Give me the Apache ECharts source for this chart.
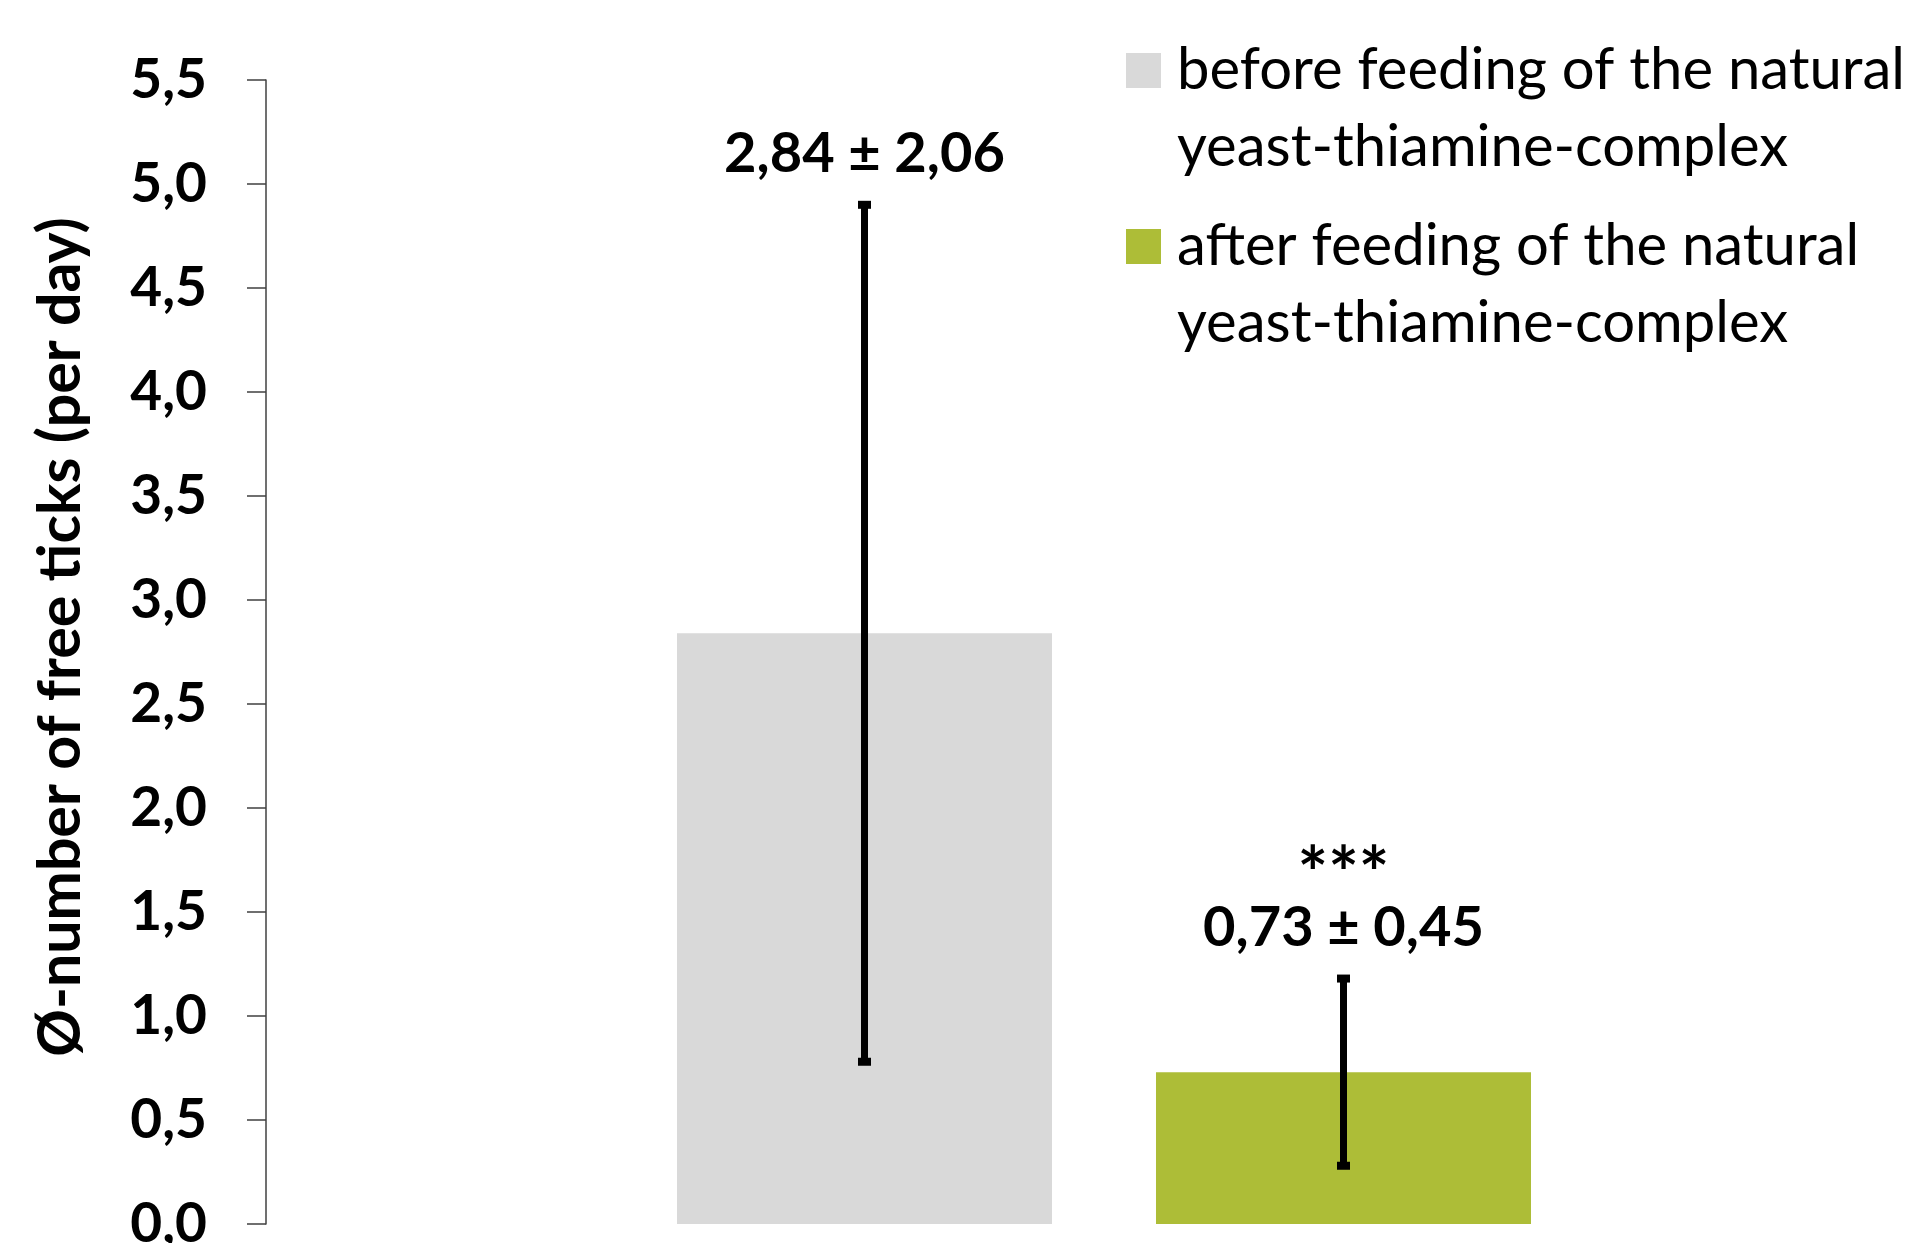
<!DOCTYPE html>
<html>
<head>
<meta charset="utf-8">
<title>Free ticks per day</title>
<script src="https://cdn.jsdelivr.net/npm/echarts@6/dist/echarts.min.js"></script>
<style>
  html, body { margin: 0; padding: 0; background: #ffffff; }
  #chart { width: 1927px; height: 1243px; }
</style>
</head>
<body>
<div id="chart"></div>
<script>
// ---- data ----
const categories = [''];
const groupNames = [
  'before feeding of the natural\nyeast-thiamine-complex',
  'after feeding of the natural\nyeast-thiamine-complex'
];
const means = [2.84, 0.73];
const sds = [2.06, 0.45];
const significance = ['', '***'];
const groupColors = ['#D9D9D9', '#ADBD37'];
const yMin = 0, yMax = 5.5, yStep = 0.5;

// ---- layout constants ----
const BAR_WIDTH = 375;
const BAR_GAP_PX = 104;
const FONT = 'Lato';

const fmt = (v, d) => v.toFixed(d).replace('.', ',');

const chart = echarts.init(document.getElementById('chart'), null, { renderer: 'canvas' });

const barSeries = groupNames.map((name, i) => ({
  name: name,
  type: 'bar',
  data: [means[i]],
  barWidth: BAR_WIDTH,
  barGap: (BAR_GAP_PX / BAR_WIDTH * 100).toFixed(2) + '%',
  itemStyle: { color: groupColors[i] },
  emphasis: { disabled: true },
  silent: true
}));

// error bars with caps plus the "mean ± sd" annotations
const errorData = means.map((m, i) => [0, m, sds[i], i]);
const errorSeries = {
  type: 'custom',
  name: 'sd',
  silent: true,
  z: 10,
  data: errorData,
  renderItem: function (params, api) {
    const idx = api.value(3);
    const mean = api.value(1);
    const sd = api.value(2);
    const base = api.coord([api.value(0), mean]);
    const cx = base[0] + (idx - (means.length - 1) / 2) * (BAR_WIDTH + BAR_GAP_PX);
    const yHi = api.coord([api.value(0), mean + sd])[1];
    const yLo = api.coord([api.value(0), mean - sd])[1];
    const capW = 13, capH = 8;
    const children = [
      { type: 'line', shape: { x1: cx, y1: yHi, x2: cx, y2: yLo },
        style: { stroke: '#000', lineWidth: 7 } },
      { type: 'rect', shape: { x: cx - capW / 2, y: yHi - capH / 2, width: capW, height: capH },
        style: { fill: '#000' } },
      { type: 'rect', shape: { x: cx - capW / 2, y: yLo - capH / 2, width: capW, height: capH },
        style: { fill: '#000' } },
      { type: 'text', x: cx, y: yHi - 51,
        style: { text: fmt(mean, 2) + ' ± ' + fmt(sd, 2), fill: '#000',
                 font: 'bold 56px ' + FONT, align: 'center', verticalAlign: 'middle' } }
    ];
    if (significance[idx]) {
      children.push({ type: 'text', x: cx, y: yHi - 51 - 51,
        style: { text: significance[idx], fill: '#000',
                 font: 'bold 72px ' + FONT, align: 'center', verticalAlign: 'middle' } });
    }
    return { type: 'group', children: children };
  }
};

chart.setOption({
  animation: false,
  backgroundColor: '#ffffff',
  textStyle: { fontFamily: FONT },
  grid: {
    left: 266, top: 80, width: 1676, height: 1144,
    containLabel: false,
    outerBoundsMode: 'none'
  },
  legend: {
    orient: 'vertical',
    left: 1126,
    top: -45,
    padding: 0,
    itemWidth: 35,
    itemHeight: 35,
    itemGap: -55,
    icon: 'rect',
    selectedMode: false,
    data: groupNames,
    // leading blank line keeps the first text line level with the swatch
    formatter: name => '\n' + name,
    textStyle: {
      fontFamily: FONT,
      fontSize: 58,
      color: '#000',
      lineHeight: 77,
      padding: [0, 0, 0, 11]
    }
  },
  xAxis: {
    type: 'category',
    data: categories,
    axisLine: { show: false },
    axisTick: { show: false },
    axisLabel: { show: false },
    splitLine: { show: false }
  },
  yAxis: {
    type: 'value',
    min: yMin,
    max: yMax,
    interval: yStep,
    name: 'Ø-number of free ticks (per day)',
    nameLocation: 'middle',
    nameGap: 176,
    nameTextStyle: {
      fontFamily: FONT, fontWeight: 'bold', fontSize: 59, color: '#000',
      padding: [0, 0, 0, 30]
    },
    axisLine: { show: true, lineStyle: { color: '#404040', width: 1.5 } },
    axisTick: { show: true, inside: false, length: 19, lineStyle: { color: '#404040', width: 1.5 } },
    axisLabel: {
      margin: 59,
      color: '#000',
      fontFamily: FONT,
      fontWeight: 'bold',
      fontSize: 55,
      formatter: v => fmt(v, 1)
    },
    splitLine: { show: false }
  },
  series: barSeries.concat([errorSeries])
});
</script>
</body>
</html>
